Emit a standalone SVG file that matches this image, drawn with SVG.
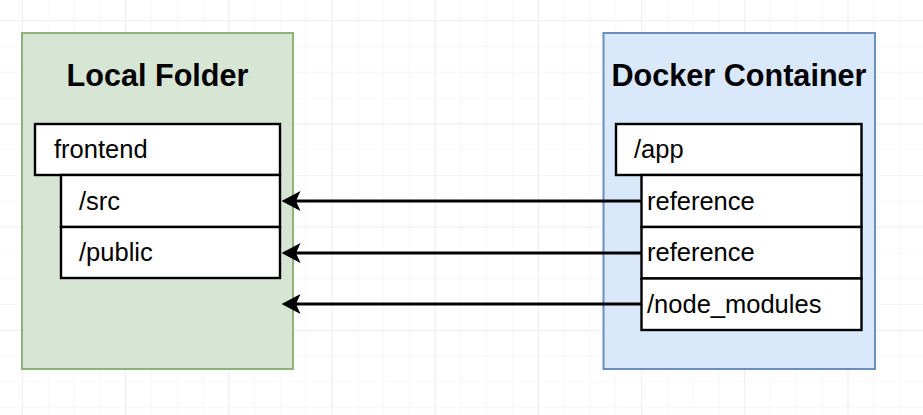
<svg xmlns="http://www.w3.org/2000/svg" width="923" height="415" viewBox="0 0 923 415">
  <defs>
    <pattern id="minor" patternUnits="userSpaceOnUse" x="21.9" y="20.2" width="25.8" height="25.8">
      <path d="M0,0 H25.8 M0,0 V25.8" fill="none" stroke="#f0f0f0" stroke-width="1"/>
    </pattern>
    <pattern id="major" patternUnits="userSpaceOnUse" x="21.9" y="20.2" width="103.2" height="103.2">
      <path d="M0,0 H103.2 M0,0 V103.2" fill="none" stroke="#e4e4e4" stroke-width="1"/>
    </pattern>
    <marker id="arrow" markerUnits="userSpaceOnUse" viewBox="0 0 19 20" markerWidth="19" markerHeight="20" refX="4.5" refY="10" orient="auto">
      <path d="M0,0 L19,10 L0,20 L4.5,10 Z" fill="#000"/>
    </marker>
    <style>
      .title { font-family: "Liberation Sans", Arial, sans-serif; font-weight: bold; font-size: 30.6px; fill: #000; text-anchor: middle; }
      .lbl { font-family: "Liberation Sans", Arial, sans-serif; font-size: 25.5px; fill: #000; }
      .cell { fill: #ffffff; stroke: #000; stroke-width: 2.4; }
      .conn { fill: none; stroke: #000; stroke-width: 3; marker-end: url(#arrow); }
    </style>
  </defs>
  <rect width="923" height="415" fill="#ffffff"/>
  <rect width="923" height="415" fill="url(#minor)"/>
  <rect width="923" height="415" fill="url(#major)"/>

  <g id="local-folder">
    <rect x="22" y="33" width="271" height="336" fill="#d7e5d4" stroke="#8fb27a" stroke-width="2"/>
    <text class="title" x="157.5" y="86">Local Folder</text>
  </g>
  <g id="docker-container">
    <rect x="603.5" y="33" width="271.5" height="336" fill="#dae8fc" stroke="#6c8ebf" stroke-width="2"/>
    <text class="title" x="739" y="86">Docker Container</text>
  </g>

  <g id="frontend">
    <rect class="cell" x="35" y="124" width="245" height="51"/>
    <text class="lbl" x="54" y="158">frontend</text>
  </g>
  <g id="src">
    <rect class="cell" x="61" y="175" width="219" height="52"/>
    <text class="lbl" x="79" y="210">/src</text>
  </g>
  <g id="public">
    <rect class="cell" x="61" y="227" width="219" height="51"/>
    <text class="lbl" x="79" y="261">/public</text>
  </g>

  <g id="connectors">
    <path class="conn" d="M641,201 H296"/>
    <path class="conn" d="M641,253 H296"/>
    <path class="conn" d="M641,304 H296"/>
  </g>

  <g id="app">
    <rect class="cell" x="616" y="124" width="245.5" height="51"/>
    <text class="lbl" x="634" y="158">/app</text>
  </g>
  <g id="reference-1">
    <rect class="cell" x="641.5" y="175" width="220" height="52"/>
    <text class="lbl" x="647" y="210">reference</text>
  </g>
  <g id="reference-2">
    <rect class="cell" x="641.5" y="227" width="220" height="51.5"/>
    <text class="lbl" x="647" y="261">reference</text>
  </g>
  <g id="node-modules">
    <rect class="cell" x="641.5" y="278.5" width="220" height="51.5"/>
    <text class="lbl" x="647" y="313">/node_modules</text>
  </g>
</svg>
